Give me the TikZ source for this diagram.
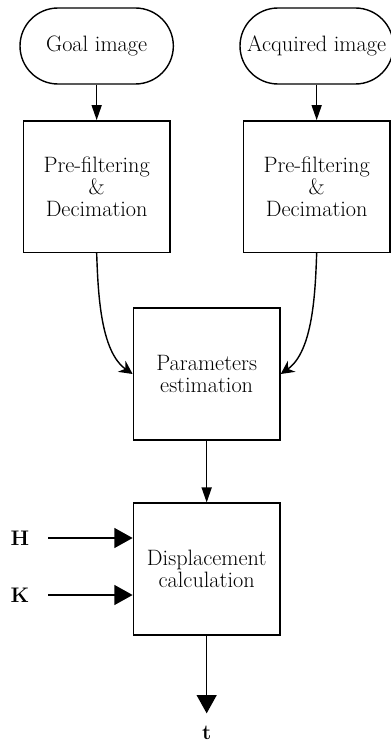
\documentclass[tikz,border=0pt]{standalone}
\usepackage{tikz}
\usetikzlibrary{shapes.misc, positioning, arrows.meta}

\begin{document}
\begin{tikzpicture}[
    >=Triangle,
    terminal/.style={
        draw, rounded rectangle, minimum width=4.6cm, minimum height=2.28cm,
        inner sep=0pt, align=center, line width=1.2pt, font=\fontsize{19}{19}\selectfont
    },
    block/.style={
        draw, rectangle, minimum width=4.4cm, minimum height=3.95cm,
        align=center, line width=1.2pt, font=\fontsize{19}{19}\selectfont
    },
    flow/.style={-{Triangle[length=4.5mm, width=3mm]}, line width=1.2pt},
    merge/.style={-{Stealth[length=4mm, width=4mm]}, line width=1.2pt},
    feed/.style={-{Triangle[length=5.5mm, width=6mm]}, line width=1.2pt},
    symbol/.style={font=\fontsize{18}{19}\selectfont\bfseries}
]

\useasboundingbox (0,0) rectangle (11.73,-22.26);

% -------------------------
% Inputs
% -------------------------
\node[terminal] (Goal) at (2.9, -1.38) {Goal image};
\node[terminal] (Acquired) at (9.5, -1.38) {Acquired image};

% -------------------------
% Processing blocks
% -------------------------
\node[block] (PreGoal) at (2.9, -5.6) {Pre-filtering\\\&\\Decimation};
\node[block] (PreAcquired) at (9.5, -5.6) {Pre-filtering\\\&\\Decimation};
\node[block] (Params) at (6.2, -11.22) {Parameters\\estimation};
\node[block] (Displacement) at (6.2, -17.07) {Displacement\\calculation};

% side inputs and output
\node[symbol] (H) at (0.6, -16.14) {H};
\node[symbol] (K) at (0.6, -17.85) {K};
\node[symbol, anchor=base, inner sep=0pt] (t) at (6.2, -22.18) {t};
\coordinate (Hin) at (1.45, -16.14);
\coordinate (Kin) at (1.45, -17.85);
\coordinate (tout) at (6.2, -21.4);

% -------------------------
% Connections
% -------------------------
\draw[flow] (Goal.south) -- (PreGoal.north);
\draw[flow] (Acquired.south -| PreAcquired.north) -- (PreAcquired.north);

\draw[merge] (PreGoal.south) to[out=-88, in=145, looseness=0.8] (Params.west);
\draw[merge] (PreAcquired.south) to[out=-92, in=35, looseness=0.8] (Params.east);

\draw[flow] (Params.south) -- (Displacement.north);

\draw[feed] (Hin) -- (Hin -| Displacement.west);
\draw[feed] (Kin) -- (Kin -| Displacement.west);
\draw[feed] (Displacement.south) -- (tout);

\end{tikzpicture}
\end{document}
